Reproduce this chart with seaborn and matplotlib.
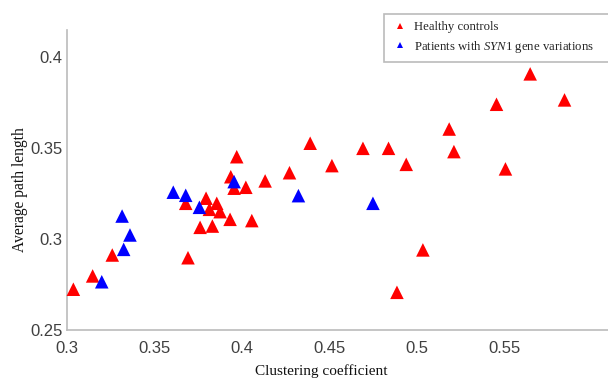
import matplotlib
matplotlib.use("Agg")
import matplotlib.pyplot as plt
import seaborn as sns
import pandas as pd
from matplotlib.lines import Line2D
from matplotlib import font_manager

healthy_x = [0.3038, 0.3148, 0.3260, 0.3679, 0.3692, 0.3761, 0.3795, 0.3814, 0.3856, 0.3875,
             0.3831, 0.3932, 0.3970, 0.3936, 0.3955, 0.4022, 0.4056, 0.4132, 0.4271, 0.4389,
             0.4513, 0.4690, 0.4836, 0.4937, 0.5032, 0.4884, 0.5182, 0.5209, 0.5452, 0.5644,
             0.5840, 0.5503]
healthy_y = [0.2724, 0.2797, 0.2912, 0.3196, 0.2897, 0.3064, 0.3224, 0.3163, 0.3196, 0.3150,
             0.3071, 0.3108, 0.3452, 0.3342, 0.3279, 0.3284, 0.3101, 0.3319, 0.3364, 0.3526,
             0.3403, 0.3498, 0.3498, 0.3410, 0.2940, 0.2707, 0.3604, 0.3480, 0.3740, 0.3907,
             0.3764, 0.3385]
patient_x = [0.3200, 0.3325, 0.3316, 0.3361, 0.3608, 0.3679, 0.3757, 0.3955, 0.4322, 0.4747]
patient_y = [0.2765, 0.2943, 0.3126, 0.3022, 0.3257, 0.3240, 0.3174, 0.3315, 0.3238, 0.3196]

group_labels = ["Healthy controls", r"Patients with $\it{SYN1}$ gene variations"]
x_ticks = [0.3, 0.35, 0.4, 0.45, 0.5, 0.55]
x_tick_labels = ["0.3", "0.35", "0.4", "0.45", "0.5", "0.55"]
y_ticks = [0.25, 0.3, 0.35, 0.4]
y_tick_labels = ["0.25", "0.3", "0.35", "0.4"]

df = pd.DataFrame({
    "x": healthy_x + patient_x,
    "y": healthy_y + patient_y,
    "group": [group_labels[0]] * len(healthy_x) + [group_labels[1]] * len(patient_x),
})

sns.set_style("white")
plt.rcParams["font.family"] = ["Liberation Serif", "DejaVu Serif"]
plt.rcParams["mathtext.fontset"] = "custom"
plt.rcParams["mathtext.it"] = "Liberation Serif:italic"
plt.rcParams["mathtext.rm"] = "Liberation Serif"

names = {f.name for f in font_manager.fontManager.ttflist}
tick_family = "Liberation Sans Narrow" if "Liberation Sans Narrow" in names else "Liberation Sans"

W, H = 608, 379
fig = plt.figure(figsize=(W / 100, H / 100), dpi=100)
ax_left, ax_top, ax_bottom, ax_right = 66.7, 30, 330, 608
ax = fig.add_axes([ax_left / W, 1 - ax_bottom / H, (ax_right - ax_left) / W, (ax_bottom - ax_top) / H])

palette = {group_labels[0]: "#ff0000", group_labels[1]: "#0000ff"}
sns.scatterplot(data=df, x="x", y="y", hue="group", palette=palette, marker="^",
                s=95, linewidth=0, ax=ax, legend=False, zorder=3, clip_on=False)

ax.set_xlim(0.3, 0.6088)
ax.set_ylim(0.25, 0.4148)
ax.set_xticks(x_ticks)
ax.set_xticklabels(x_tick_labels)
ax.set_yticks(y_ticks)
ax.set_yticklabels(y_tick_labels)

for lab in ax.get_xticklabels() + ax.get_yticklabels():
    lab.set_family([tick_family, "DejaVu Sans"])
    lab.set_fontsize(12)
    lab.set_color("#404040")

ax.tick_params(axis="x", direction="in", length=4, width=0.8, color="#999999", pad=8)
ax.tick_params(axis="y", direction="in", length=4, width=0.8, color="#999999", pad=3)
for side in ["top", "right"]:
    ax.spines[side].set_visible(False)
for side in ["left", "bottom"]:
    ax.spines[side].set_color("#bbbbbb")
    ax.spines[side].set_linewidth(1.2)

ax.set_xlabel("Clustering coefficient", fontsize=11, color="#111111")
ax.set_ylabel("Average path length", fontsize=11.2, color="#111111")
ax.xaxis.set_label_coords((321 - ax_left) / (ax_right - ax_left), -0.113)
ax.yaxis.set_label_coords((28 - ax_left) / (ax_right - ax_left), 0.467)

handles = [Line2D([0], [0], marker="^", linestyle="none", markersize=5,
                  markerfacecolor=palette[g], markeredgewidth=0) for g in group_labels]
lx0, ly0, lx1, ly1 = 384, 14, 640, 60
leg = fig.legend(handles, group_labels, loc="upper left",
                 bbox_to_anchor=(lx0 / W, 1 - ly1 / H, (lx1 - lx0) / W, (ly1 - ly0) / H),
                 mode="expand", fontsize=9.2, frameon=True, fancybox=False, edgecolor="#aaaaaa",
                 handlelength=1.4, handletextpad=0.4, borderpad=0.55, labelspacing=0.45,
                 borderaxespad=0)
leg.get_frame().set_linewidth(1.2)

fig.savefig("out.png", dpi=100)
